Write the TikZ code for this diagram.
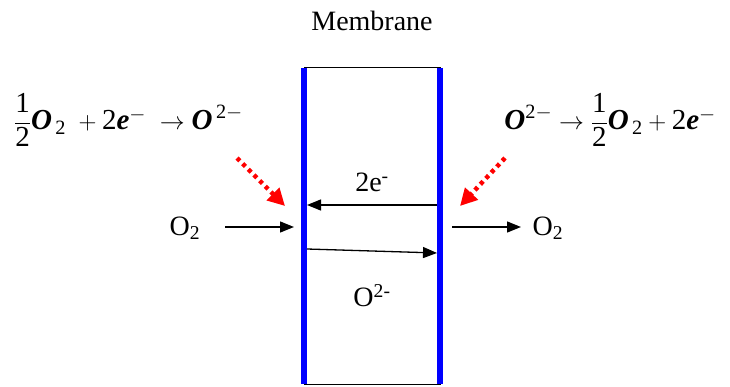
\documentclass[tikz,border=0pt]{standalone}
\usepackage{amsmath}
\usepackage{fontspec}
\setmainfont{Liberation Serif}
\usetikzlibrary{arrows.meta}
\newcommand{\bO}{\textbf{\textit{O}}}
\newcommand{\be}{\textbf{\textit{e}}}
\newcommand{\hf}{\genfrac{}{}{0.8pt}{0}{\textrm{1}}{\textrm{2}}}
\begin{document}
\begin{tikzpicture}[x=1pt,y=-1pt,
  lbl/.style={inner sep=0pt,font=\fontsize{28}{32}\selectfont},
  eqn/.style={inner sep=0pt,font=\fontsize{29}{32}\selectfont},
  flow/.style={line width=1.3pt,-{Triangle[width=11pt,length=14pt]}},
  redarr/.style={red,line width=4.5pt,dash pattern=on 4pt off 4pt,-{Triangle[width=17pt,length=17pt]}},
  wall/.style={blue,line width=6pt}]
\useasboundingbox (0,0) rectangle (730,387);
\draw[line width=1pt] (304,68) rectangle (440,384);
\coordinate (lt) at (304,68);
\coordinate (lb) at (304,384);
\coordinate (rt) at (440,68);
\coordinate (rb) at (440,384);
\draw[wall] (lt) -- (lb);
\draw[wall] (rt) -- (rb);
\node[lbl] (mem) at (372,21) {Membrane};
\node[lbl] (e2) at (372,182) {2e\textsuperscript{-}};
\node[lbl] (o2m) at (372,296) {O\textsuperscript{2-}};
\node[lbl] (o2l) at (185,228) {O\textsubscript{2}};
\node[lbl] (o2r) at (548,228) {O\textsubscript{2}};
\coordinate (al1) at (225,227);
\coordinate (al2) at (294,227);
\coordinate (ar1) at (452,227);
\coordinate (ar2) at (521,227);
\draw[flow] (al1) -- (al2);
\draw[flow] (ar1) -- (ar2);
\coordinate (e1) at (437,205);
\coordinate (e2e) at (307,205);
\draw[flow] (e1) -- (e2e);
\coordinate (m1) at (307,249);
\coordinate (m2) at (437,253);
\draw[flow] (m1) -- (m2);
\node[eqn,anchor=west] (eql) at (14,120) {$\hf\bO_{\,\textrm{2}}\;+\textrm{2}\be^{-}\;\rightarrow\bO^{\,\textrm{2}-}$};
\node[eqn,anchor=east] (eqr) at (716,120) {$\bO^{\textrm{2}-}\rightarrow\hf\bO_{\,\textrm{2}}+\textrm{2}\be^{-}$};
\coordinate (rl1) at (237,158);
\coordinate (rl2) at (285,206);
\coordinate (rr1) at (505,158);
\coordinate (rr2) at (460,206);
\draw[redarr] (rl1) -- (rl2);
\draw[redarr] (rr1) -- (rr2);
\end{tikzpicture}
\end{document}
